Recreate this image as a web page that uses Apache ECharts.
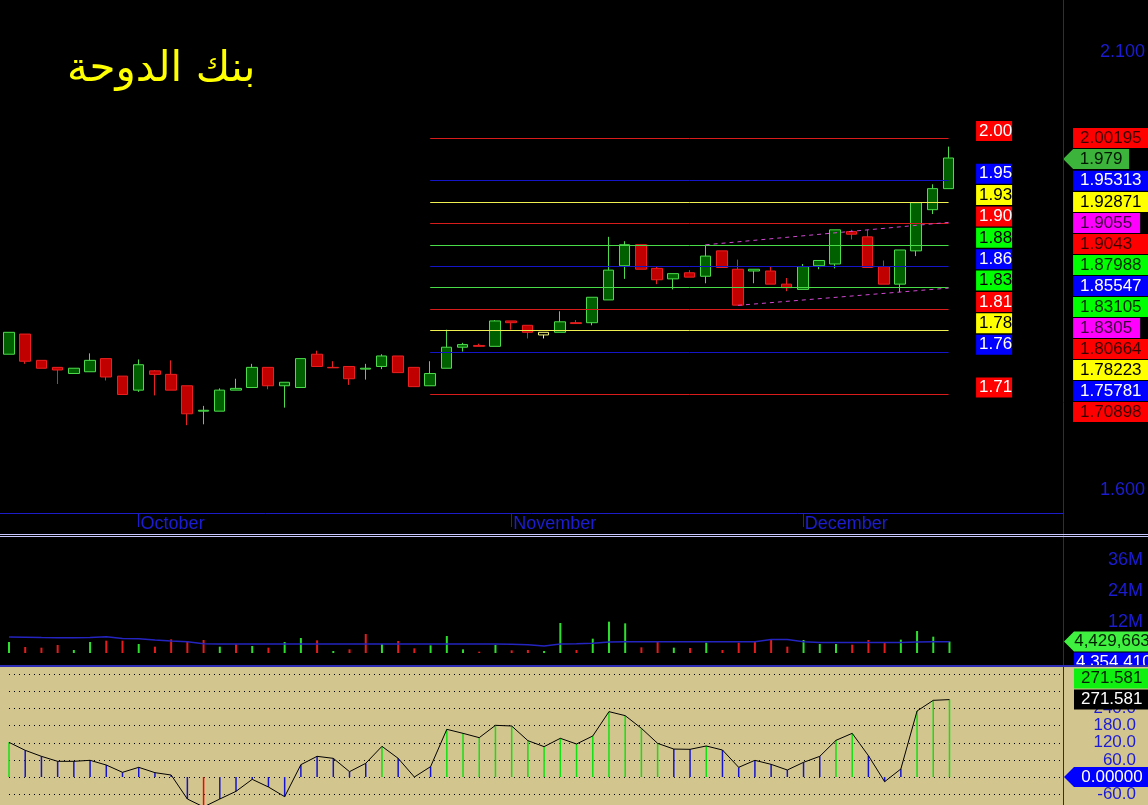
<!DOCTYPE html>
<html><head><meta charset="utf-8">
<script src="https://cdn.jsdelivr.net/npm/echarts@6/dist/echarts.min.js"></script>
<style>html,body{margin:0;padding:0;background:#000;}#c{width:1148px;height:805px;}</style>
</head><body><div id="c"></div>
<script>
// ---------------- DATA ----------------
const titleText = 'بنك الدوحة';
const dates = [
 '2024-09-19','2024-09-22','2024-09-23','2024-09-24','2024-09-25','2024-09-26','2024-09-29','2024-09-30',
 '2024-10-01','2024-10-02','2024-10-03','2024-10-06','2024-10-07','2024-10-08','2024-10-09','2024-10-10',
 '2024-10-13','2024-10-14','2024-10-15','2024-10-16','2024-10-17','2024-10-20','2024-10-21','2024-10-22',
 '2024-10-23','2024-10-24','2024-10-27','2024-10-28','2024-10-29','2024-10-30','2024-10-31',
 '2024-11-03','2024-11-04','2024-11-05','2024-11-06','2024-11-07','2024-11-10','2024-11-11','2024-11-12',
 '2024-11-13','2024-11-14','2024-11-17','2024-11-18','2024-11-19','2024-11-20','2024-11-21','2024-11-24',
 '2024-11-25','2024-11-26',
 '2024-12-01','2024-12-02','2024-12-03','2024-12-04','2024-12-05','2024-12-08','2024-12-09','2024-12-10',
 '2024-12-11','2024-12-12',
 '2024-12-15','2024-12-16','2024-12-17','2024-12-19','2024-12-22','2024-12-23','2024-12-24'
];
const opens  = [1.755,1.778,1.748,1.740,1.733,1.735,1.750,1.730,1.714,1.736,1.732,1.719,1.690,1.690,1.714,1.717,1.740,1.719,1.717,1.755,1.740,1.741,1.738,1.741,1.753,1.740,1.719,1.739,1.763,1.765,1.764,1.793,1.788,1.777,1.780,1.791,1.791,1.817,1.856,1.880,1.853,1.841,1.848,1.844,1.873,1.852,1.850,1.850,1.835,1.829,1.856,1.858,1.895,1.889,1.855,1.835,1.873,1.920,1.944];
const closes = [1.780,1.747,1.739,1.737,1.739,1.748,1.729,1.709,1.743,1.732,1.714,1.687,1.691,1.714,1.716,1.740,1.719,1.723,1.750,1.741,1.7395,1.727,1.739,1.753,1.734,1.718,1.733,1.763,1.766,1.764,1.793,1.791,1.780,1.780,1.792,1.790,1.820,1.851,1.880,1.852,1.840,1.847,1.843,1.867,1.854,1.811,1.852,1.835,1.831,1.855,1.862,1.897,1.892,1.854,1.835,1.874,1.928,1.944,1.979];
const lows   = [1.755,1.744,1.739,1.721,1.733,1.735,1.725,1.709,1.712,1.708,1.714,1.674,1.675,1.690,1.714,1.717,1.715,1.694,1.717,1.741,1.7395,1.720,1.726,1.738,1.734,1.718,1.719,1.739,1.758,1.764,1.764,1.783,1.773,1.773,1.780,1.790,1.788,1.817,1.841,1.852,1.835,1.829,1.843,1.836,1.854,1.811,1.836,1.835,1.827,1.829,1.852,1.853,1.886,1.854,1.835,1.826,1.867,1.915,1.944];
const highs  = [1.780,1.778,1.748,1.740,1.739,1.756,1.750,1.730,1.749,1.737,1.748,1.719,1.696,1.716,1.727,1.744,1.740,1.723,1.750,1.759,1.747,1.741,1.744,1.755,1.753,1.740,1.747,1.783,1.768,1.767,1.794,1.793,1.788,1.780,1.804,1.794,1.820,1.889,1.884,1.880,1.855,1.847,1.851,1.880,1.873,1.863,1.852,1.855,1.842,1.858,1.862,1.897,1.897,1.897,1.862,1.874,1.928,1.949,1.992];
const yellowCandles = [33];

const fibLevels = [2.00195,1.95313,1.92871,1.9043,1.87988,1.85547,1.83105,1.80664,1.78223,1.75781,1.70898];
const fibColors = ['red','blue','yellow','red','green','blue','green','red','yellow','blue','red'];
const fibRange = [26, 58];
const trendUpper = [[43, 1.8799], [58, 1.9055]];
const trendLower = [[45, 1.8108], [58, 1.8305]];

const volumes = [4.26,2.32,2.06,3.10,1.16,4.26,4.77,4.77,3.48,2.45,5.29,4.64,5.03,2.45,3.35,2.71,2.06,4.26,5.80,4.90,0.77,1.42,7.35,3.48,4.64,1.81,2.97,6.58,1.42,0.52,3.10,1.03,1.16,0.77,11.61,1.16,5.55,12.13,11.48,2.19,4.39,2.06,1.94,4.00,1.16,4.00,4.26,5.29,2.45,5.03,3.48,3.48,3.23,5.03,4.00,5.16,8.51,6.32,4.43];
const volumeUp = [1,0,0,0,1,1,0,0,1,0,0,0,0,1,0,1,0,1,1,0,1,0,0,1,0,0,1,1,1,0,1,0,0,1,1,0,1,1,1,0,0,1,0,1,0,0,0,0,0,1,1,1,0,0,0,1,1,1,1];
const volumeMA = [6.2,6.1,6.0,5.95,5.95,6.0,6.3,5.6,5.5,5.0,4.6,4.4,3.6,3.5,3.5,3.5,3.5,3.5,3.5,3.5,3.5,3.5,3.5,3.5,3.5,3.5,3.5,3.5,3.5,3.5,3.5,3.4,3.2,2.7,3.5,3.6,3.8,4.3,4.4,4.4,4.4,4.4,4.4,4.4,4.4,4.4,4.4,5.2,5.2,4.4,4.1,4.1,4.1,4.1,4.1,4.1,4.3,4.4,4.354];
const lastVolume = 4429663;
const lastVolumeMA = 4354410;
const volumeTicks = [12, 24, 36];

const cci = [121.6,93.6,72.5,55,55,58.5,42,16.4,33.9,15.2,7,-77.2,-105,-77.2,-50.3,-8.2,-35.1,-69,43.3,72.5,65.5,18.7,48,107.6,65.5,0,36.3,167.3,153.2,138,181.3,179,127.5,106.5,135.7,115.8,143.9,229.3,215.3,170.8,118.1,98,97.1,108.8,94.7,33.9,58.5,44.4,24.6,51.5,72.5,128.7,153.2,74.9,-16.4,28.1,231.6,269,271.581];
const cciGrid = [-60,0,60,120,180,240,300,360];
const cciTicks = [-60,60,120,180,240];
const priceTicks = [1.6, 2.1];
const MONTHS = ['January','February','March','April','May','June','July','August','September','October','November','December'];

// ---------------- STYLE ----------------
const FONT = '"Liberation Sans", Arial, sans-serif';
const AXIS_BLUE = '#1c1cd2';
const TAN = '#d3c58e';
const BOX = {red:'#ff0000', blue:'#0000ff', yellow:'#ffff00', green:'#00ff00', magenta:'#ff00ff'};
const BOX_TEXT = {red:'#3a0000', blue:'#ffffff', yellow:'#000000', green:'#002800', magenta:'#3c003c'};
const INNER_TEXT = {red:'#ffffff', blue:'#ffffff', yellow:'#000000', green:'#000000'};
const LINE_COL = {red:'#d81c1c', blue:'#1414c8', yellow:'#f0f050', green:'#48dc48'};
const HIDDEN = {color:'rgba(0,0,0,0)', opacity:1};

// pane ranges (fit the reference layout)
const P_MAX = 2.1 + 52/876, P_MIN = 1.6 - 23/876;
const V_MAX = 116/31*12, V_MIN = -10/31*12;
const C_MAX = 110*60/17.1, C_MIN = -28*60/17.1;
const MAIN_H = 513, VOL_H = 126, CCI_H = 138, SLOT = 21;

const last = closes.length - 1;
const monthOf = d => d.slice(5,7);
const isMonthStart = (i) => i > 0 && i < dates.length && monthOf(dates[i]) !== monthOf(dates[i-1]);

// stacked right-hand value labels (pushed down when overlapping)
function cascadeDown(items, slot){ let prev = Infinity; items.sort((a,b)=>b.v-a.v).forEach(it=>{ it.pos = Math.min(it.v, prev - slot); prev = it.pos; }); return items; }
const pSlot = SLOT*(P_MAX-P_MIN)/MAIN_H;
const outer = cascadeDown([
  ...fibLevels.map((v,i)=>({v, c:fibColors[i], t:String(v)})),
  {v: trendUpper[1][1], c:'magenta', t:String(trendUpper[1][1])},
  {v: trendLower[1][1], c:'magenta', t:String(trendLower[1][1])},
  {v: closes[last], c:'close', t:String(closes[last])}
], pSlot);

const vSlot = SLOT*(V_MAX-V_MIN)/VOL_H;
const volLabels = cascadeDown([
  {v: lastVolume/1e6, c:'close', t: lastVolume.toLocaleString('en-US')},
  {v: lastVolumeMA/1e6, c:'blue', t: lastVolumeMA.toLocaleString('en-US')}
], vSlot);
const cSlot = SLOT*(C_MAX-C_MIN)/CCI_H;

const boxLabel = (bg, fg, w) => ({backgroundColor:bg, color:fg, width:w||80});

const chart = echarts.init(document.getElementById('c'), null, {renderer:'canvas'});
const candleData = opens.map((o,i)=>{
  const it = {value:[o, closes[i], lows[i], highs[i]]};
  if (yellowCandles.includes(i)) it.itemStyle = {color:'#000000', borderColor:'#f4f47a', color0:'#000000', borderColor0:'#f4f47a'};
  return it;
});

const option = {
  backgroundColor:'#000000',
  animation:false,
  title:{text:titleText, left:62, top:44, textStyle:{color:'#ffff00', fontSize:42, fontWeight:'normal', fontFamily:'"DejaVu Sans", sans-serif'}},
  grid:[
    {left:9, right:85, top:0, height:MAIN_H},
    {left:9, right:85, top:537, height:VOL_H},
    {left:9, right:85, top:667, height:CCI_H}
  ],
  xAxis:[
    {type:'category', gridIndex:0, data:dates, boundaryGap:false,
     axisLine:{show:false},
     axisTick:{show:true, interval:isMonthStart, length:14, lineStyle:{color:AXIS_BLUE}},
     axisLabel:{interval:isMonthStart, formatter:(v)=>MONTHS[+v.slice(5,7)-1], color:AXIS_BLUE, fontSize:18, fontFamily:FONT, align:'left', margin:2, padding:[0,0,0,2]},
     splitLine:{show:false}},
    {type:'category', gridIndex:1, data:dates, boundaryGap:false, show:false},
    {type:'category', gridIndex:2, data:dates, boundaryGap:false, show:false}
  ],
  yAxis:[
    {type:'value', gridIndex:0, position:'right', min:P_MIN, max:P_MAX, axisLine:{show:false}, axisTick:{show:false}, splitLine:{show:false},
     axisLabel:{customValues:priceTicks, formatter:v=>v.toFixed(3), color:AXIS_BLUE, fontSize:18, fontFamily:FONT, align:'right', margin:83}},
    {type:'value', gridIndex:1, position:'right', min:V_MIN, max:V_MAX, axisLine:{show:false}, axisTick:{show:false}, splitLine:{show:false},
     axisLabel:{customValues:volumeTicks, formatter:v=>v+'M', color:AXIS_BLUE, fontSize:18, fontFamily:FONT, align:'right', margin:80}},
    {type:'value', gridIndex:2, position:'right', min:C_MIN, max:C_MAX, z:8, axisLine:{show:false},
     axisTick:{show:false, customValues:cciGrid},
     splitLine:{show:true, lineStyle:{color:'#000000', type:[1,4], width:1}},
     axisLabel:{customValues:cciTicks, formatter:v=>v.toFixed(1), color:AXIS_BLUE, fontSize:17, fontFamily:FONT, align:'right', margin:73}}
  ],
  series:[
    // fib & trend lines
    {type:'line', xAxisIndex:0, yAxisIndex:0, data:[], z:1, silent:true,
     markLine:{symbol:['none','none'], silent:true, animation:false, label:{show:false},
       data:[
         ...fibLevels.map((v,i)=>[{coord:[fibRange[0], v], lineStyle:{color:LINE_COL[fibColors[i]], width:1, type:'solid'}},{coord:[fibRange[1], v]}]),
         [{coord:trendUpper[0], lineStyle:{color:'#d048d0', width:1, type:[4,4]}},{coord:trendUpper[1]}],
         [{coord:trendLower[0], lineStyle:{color:'#d048d0', width:1, type:[4,4]}},{coord:trendLower[1]}]
       ]}},
    {type:'candlestick', xAxisIndex:0, yAxisIndex:0, z:3, barWidth:11, clip:false, data:candleData,
     itemStyle:{color:'#006000', color0:'#c00000', borderColor:'#4cdc4c', borderColor0:'#ec2020', borderWidth:1}},
    // short level labels
    {type:'scatter', xAxisIndex:0, yAxisIndex:0, z:5, silent:true, symbolSize:1, itemStyle:HIDDEN,
     data: fibLevels.map((v,i)=>({value:[fibRange[1], v], label:{backgroundColor:BOX[fibColors[i]], color:INNER_TEXT[fibColors[i]]}})),
     label:{show:true, position:'right', distance:27, offset:[0,-7], formatter:p=>p.value[1].toFixed(2), fontSize:17, fontFamily:FONT, width:33, height:20, lineHeight:20, padding:[0,0,0,3]}},
    // stacked value labels
    {type:'scatter', xAxisIndex:0, yAxisIndex:0, z:5, silent:true, symbolSize:1, itemStyle:HIDDEN,
     data: outer.filter(o=>o.c!=='close').map(o=>({value:[last, o.pos], name:o.t, label:boxLabel(BOX[o.c], BOX_TEXT[o.c], o.c==='magenta'?60:80)})),
     label:{show:true, position:'right', distance:124, formatter:p=>p.name, fontSize:17, fontFamily:FONT, height:20, lineHeight:20, padding:[0,0,0,7]}},
    {type:'scatter', xAxisIndex:0, yAxisIndex:0, z:5, silent:true,
     symbol:'path://M0,10L10,0L66,0L66,20L10,20Z', symbolSize:[66,20], symbolOffset:[147.5,0], itemStyle:{color:'#3cb43c', opacity:1},
     data: outer.filter(o=>o.c==='close').map(o=>({value:[last, o.pos], name:o.t})),
     label:{show:true, position:'inside', offset:[5,0], formatter:p=>p.name, color:'#001800', fontSize:17, fontFamily:FONT}},
    // volume
    {type:'bar', xAxisIndex:1, yAxisIndex:1, z:3, barWidth:2,
     data: volumes.map((v,i)=>({value:v, itemStyle:{color: volumeUp[i] ? '#2ee02e' : '#e61c1c'}}))},
    {type:'line', xAxisIndex:1, yAxisIndex:1, z:4, data:volumeMA, symbol:'none', lineStyle:{color:'#2424c0', width:1.5}},
    {type:'scatter', xAxisIndex:1, yAxisIndex:1, z:5, silent:true,
     symbol:'path://M0,10L10,0L92,0L92,20L10,20Z', symbolSize:[92,20], symbolOffset:[160.5,0], itemStyle:{color:'#40f040', opacity:1},
     data: volLabels.filter(o=>o.c==='close').map(o=>({value:[last,o.pos], name:o.t})),
     label:{show:true, position:'inside', offset:[2,0], formatter:p=>p.name, color:'#002000', fontSize:17, fontFamily:FONT}},
    {type:'scatter', xAxisIndex:1, yAxisIndex:1, z:5, silent:true, symbolSize:1, itemStyle:HIDDEN,
     data: volLabels.filter(o=>o.c!=='close').map(o=>({value:[last,o.pos], name:o.t})),
     label:{show:true, position:'right', distance:124, formatter:p=>p.name, backgroundColor:'#0000ff', color:'#ffffff', width:80, fontSize:17, fontFamily:FONT, height:20, lineHeight:20, padding:[0,0,0,2]}},
    // indicator
    {type:'bar', xAxisIndex:2, yAxisIndex:2, z:9, barWidth:1.5,
     data: cci.map(v=>({value:v, itemStyle:{color: v>100 ? '#14e014' : (v<-100 ? '#ff0000' : '#1414d0')}})),
     markLine:{symbol:['none','none'], silent:true, animation:false, label:{show:false},
       data:[[{coord:[0,0], lineStyle:{color:'#2828c8', width:2, type:'solid'}},{coord:[last,0]}]]}},
    {type:'line', xAxisIndex:2, yAxisIndex:2, z:10, data:cci, symbol:'none', lineStyle:{color:'#000000', width:1}},
    {type:'scatter', xAxisIndex:2, yAxisIndex:2, z:11, silent:true, symbolSize:1, itemStyle:HIDDEN,
     data:[
       {value:[last, cci[last] + cSlot], name:cci[last].toFixed(3), label:{backgroundColor:'#10f010', color:'#002000'}},
       {value:[last, cci[last]], name:cci[last].toFixed(3), label:{backgroundColor:'#000000', color:'#ffffff'}}
     ],
     label:{show:true, position:'right', distance:124, formatter:p=>p.name, width:80, fontSize:17, fontFamily:FONT, height:20, lineHeight:20, padding:[0,0,0,7]}},
    {type:'scatter', xAxisIndex:2, yAxisIndex:2, z:11, silent:true,
     symbol:'path://M0,10L10,0L92,0L92,20L10,20Z', symbolSize:[92,20], symbolOffset:[160.5,0], itemStyle:{color:'#0000ff', opacity:1},
     data:[{value:[last,0], name:(0).toFixed(5)}],
     label:{show:true, position:'inside', offset:[2,0], formatter:p=>p.name, color:'#ffffff', fontSize:17, fontFamily:FONT}}
  ],
  graphic:[
    {type:'rect', z:6, silent:true, shape:{x:0, y:666, width:1148, height:139}, style:{fill:TAN}},
    {type:'line', z:30, silent:true, shape:{x1:1063.5, y1:0, x2:1063.5, y2:805}, style:{stroke:'#1c1cc8', lineWidth:1}},
    {type:'line', z:30, silent:true, shape:{x1:0, y1:513.5, x2:1063, y2:513.5}, style:{stroke:'#1c1cc8', lineWidth:1}},
    {type:'line', z:30, silent:true, shape:{x1:0, y1:534.5, x2:1148, y2:534.5}, style:{stroke:'#c8c8ff', lineWidth:1}},
    {type:'line', z:30, silent:true, shape:{x1:0, y1:536.5, x2:1148, y2:536.5}, style:{stroke:'#c8c8ff', lineWidth:1}},
    {type:'line', z:30, silent:true, shape:{x1:0, y1:666, x2:1148, y2:666}, style:{stroke:'#2c2cb4', lineWidth:2}}
  ]
};
chart.setOption(option);
</script>
</body></html>
